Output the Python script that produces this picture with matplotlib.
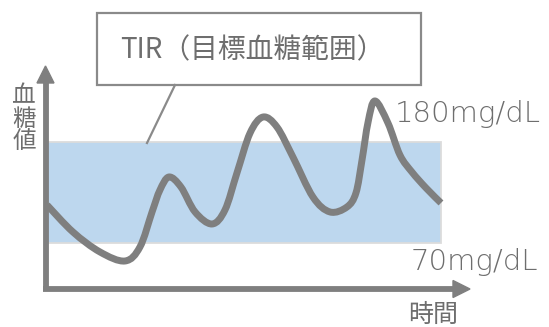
import matplotlib
matplotlib.use("Agg")
import matplotlib.pyplot as plt
import numpy as np
from matplotlib.path import Path
from matplotlib.patches import PathPatch, Rectangle

plt.rcParams['font.family'] = ['Noto Sans CJK JP', 'DejaVu Sans']

# data
hours = [0.0, 1.58, 3.23, 4.75, 5.66, 6.40, 6.88, 7.43, 8.16, 9.02, 10.05, 10.84,
         11.57, 12.37, 13.16, 14.01, 14.98, 16.20, 17.24, 18.27, 18.82, 19.19,
         19.56, 19.98, 20.77, 21.50, 22.23, 23.09, 24.0]
glucose = [111.4, 82.0, 60.2, 50.4, 65.6, 103.8, 127.7, 141.9, 131.0, 103.8, 90.7,
           105.9, 146.2, 189.8, 207.2, 196.3, 163.7, 120.1, 103.8, 109.2, 124.5,
           160.4, 201.8, 224.7, 200.7, 165.8, 147.3, 129.9, 113.6]
tir_low, tir_high = 70, 180
t_start, t_end = 0, 24
title_text = "TIR（目標血糖範囲）"
ylabel_text = "血\n糖\n値"
xlabel_text = "時間"
high_label = "180mg/dL"
low_label = "70mg/dL"

W, H = 549, 327
fig = plt.figure(figsize=(W / 100, H / 100), dpi=100)
ax = fig.add_axes([0, 0, 1, 1])
ax.set_xlim(-2.863, 30.58)
ax.set_ylim(-21.49, 334.65)
ax.axis('off')

grey = '#7f7f7f'
txt = '#6e6e6e'
tf = fig.transFigure

def P(x, y):
    return (x / W, 1 - y / H)

# TIR band
ax.add_patch(Rectangle((t_start, tir_low), t_end - t_start, tir_high - tir_low,
                       facecolor='#bdd7ee', edgecolor='#dcdcdc', lw=1.3, zorder=1))

# smooth curve through the points (Catmull-Rom -> cubic Bezier)
pts = np.column_stack([hours, glucose])
verts = [tuple(pts[0])]
codes = [Path.MOVETO]
n = len(pts)
for i in range(n - 1):
    p0 = pts[i - 1] if i > 0 else pts[i]
    p1 = pts[i]
    p2 = pts[i + 1]
    p3 = pts[i + 2] if i + 2 < n else pts[i + 1]
    c1 = p1 + (p2 - p0) / 6.0
    c2 = p2 - (p3 - p1) / 6.0
    verts += [tuple(c1), tuple(c2), tuple(p2)]
    codes += [Path.CURVE4] * 3
ax.add_patch(PathPatch(Path(verts, codes), facecolor='none', edgecolor=grey,
                       lw=5.0, capstyle='butt', joinstyle='round', zorder=3))

# axes arrows
ax.plot([45.5 / W, 45.5 / W], [1 - 291 / H, 1 - 80 / H], transform=tf, color=grey,
        lw=4.2, solid_capstyle='butt', zorder=4)
ax.plot([43 / W, 456 / W], [1 - 289 / H, 1 - 289 / H], transform=tf, color=grey,
        lw=4.2, solid_capstyle='butt', zorder=4)
ax.add_patch(plt.Polygon([P(45.5, 66), P(37, 83), P(54, 83)], closed=True,
                         transform=tf, color=grey, zorder=4))
ax.add_patch(plt.Polygon([P(470, 289), P(453, 280.5), P(453, 297.5)], closed=True,
                         transform=tf, color=grey, zorder=4))

# title box and leader
ax.add_patch(Rectangle(P(97, 85), 324 / W, 72 / H, transform=tf, facecolor='white',
                       edgecolor='#8a8a8a', lw=1.6, zorder=5))
ax.plot([175 / W, 147 / W], [1 - 85 / H, 1 - 143 / H], transform=tf, color='#8a8a8a',
        lw=1.6, zorder=5)
fig.text(252 / W, 1 - 50 / H, title_text, ha='center', va='center', fontsize=20,
         color=txt, zorder=6)

# labels
fig.text(24 / W, 1 - 119 / H, ylabel_text, ha='center', va='center', fontsize=17,
         color=txt, linespacing=1.0)
fig.text(433 / W, 1 - 315 / H, xlabel_text, ha='center', va='center', fontsize=18,
         color=txt)
fig.text(395 / W, 1 - 114 / H, high_label, ha='left', va='center', fontsize=21,
         color=txt, family='DejaVu Sans', fontweight='ultralight')
fig.text(411 / W, 1 - 262 / H, low_label, ha='left', va='center', fontsize=21,
         color=txt, family='DejaVu Sans', fontweight='ultralight')

fig.savefig('out.png', dpi=100)
